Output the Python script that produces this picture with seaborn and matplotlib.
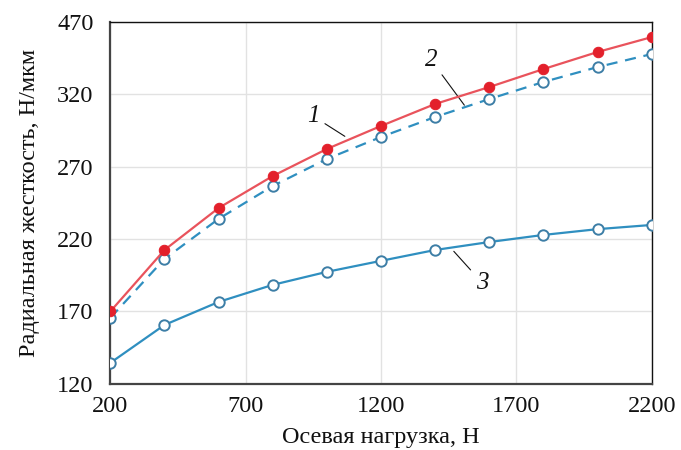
import pandas as pd
import seaborn as sns
import matplotlib.pyplot as plt

load = [200, 400, 600, 800, 1000, 1200, 1400, 1600, 1800, 2000, 2200]
stiff_1 = [170, 212.5, 241.5, 263.6, 282.3, 298.2, 313.4, 325.1, 337.5, 349.3, 359.6]
stiff_2 = [165.6, 206.3, 234, 256.7, 275.4, 290.6, 304.4, 316.8, 328.6, 338.9, 347.9]
stiff_3 = [134.5, 160.7, 176.6, 188.4, 197.4, 205, 212.5, 218, 222.9, 226.9, 229.8]

x_ticks = [200, 700, 1200, 1700, 2200]
y_ticks = [120, 170, 220, 270, 320, 370]
y_tick_labels = ['120', '170', '220', '270', '320', '470']

df = pd.DataFrame({'load': load, 's1': stiff_1, 's2': stiff_2, 's3': stiff_3})

sns.set_theme(style='whitegrid')
plt.rcParams['font.family'] = ['Liberation Serif', 'DejaVu Serif']

fig, ax = plt.subplots(figsize=(6.81, 4.5), dpi=100)

red = '#e9535c'
blue = '#2f8fc0'
edge = '#3d7ea6'

sns.lineplot(data=df, x='load', y='s1', ax=ax, color=red, lw=1.6,
             marker='o', markersize=7.5, markerfacecolor='#e3202b',
             markeredgecolor='#e3202b', zorder=4)
sns.lineplot(data=df, x='load', y='s2', ax=ax, color=blue, lw=1.6,
             linestyle=(0, (5, 3.5)), marker='o', markersize=7.5,
             markerfacecolor='white', markeredgecolor=edge,
             markeredgewidth=1.4, zorder=3)
sns.lineplot(data=df, x='load', y='s3', ax=ax, color=blue, lw=1.6,
             marker='o', markersize=7.5, markerfacecolor='white',
             markeredgecolor=edge, markeredgewidth=1.4, zorder=3)

ax.set_xlim(200, 2200)
ax.set_ylim(120, 370)
ax.set_xticks(x_ticks)
ax.set_yticks(y_ticks)
ax.set_yticklabels(y_tick_labels)
ax.tick_params(axis='both', labelsize=17.5, direction='in', length=4,
               colors='#222222', labelcolor='#111111')
ax.tick_params(axis='x', pad=9)
ax.tick_params(axis='y', pad=12)
ax.grid(True, color='#e2e2e2', lw=1)

for side in ['top', 'right']:
    ax.spines[side].set_color('#111111')
    ax.spines[side].set_linewidth(1.0)
for side in ['left', 'bottom']:
    ax.spines[side].set_color('#444444')
    ax.spines[side].set_linewidth(1.6)

ax.set_xlabel('Осевая нагрузка, Н', fontsize=17.5, color='#111111', labelpad=7)
ax.set_ylabel('Радиальная жесткость, Н/мкм', fontsize=17.5, color='#111111', labelpad=12)

ann = dict(arrowprops=dict(arrowstyle='-', color='#111111', lw=0.8),
           fontsize=18, fontstyle='italic', color='#111111',
           ha='center', va='center')
ax.annotate('1', xy=(1075, 290), xytext=(949, 305), **ann)
ax.annotate('2', xy=(1514, 311), xytext=(1384, 344), **ann)
ax.annotate('3', xy=(1462, 213), xytext=(1573, 190), **ann)

plt.subplots_adjust(left=0.162, right=0.957, top=0.951, bottom=0.147)
plt.savefig('out.png', dpi=100)
